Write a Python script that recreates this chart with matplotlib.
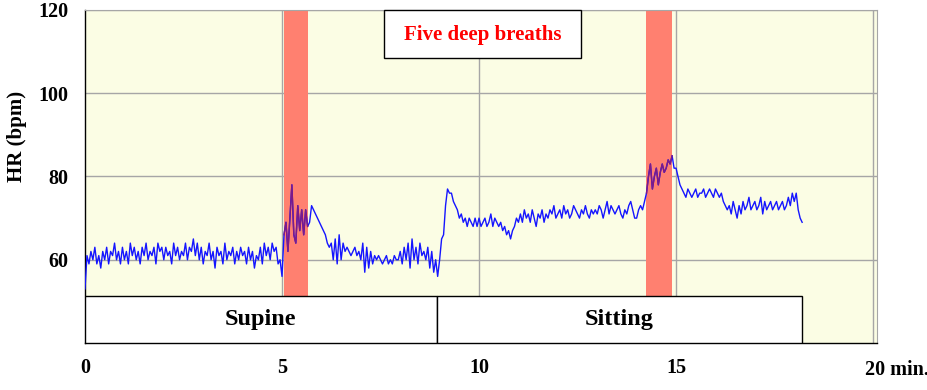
import numpy as np
import matplotlib
matplotlib.use("Agg")
import matplotlib.pyplot as plt
from matplotlib.patches import Rectangle
import matplotlib.transforms as mtransforms

# ---------------- data ----------------
sample_step = 0.05  # minutes between samples

hr_supine_rest = [
    53, 61, 59, 62, 60, 63, 59, 61, 58, 62, 60, 63, 59, 62, 61, 64, 60, 62, 59, 63,
    60, 62, 59, 64, 61, 63, 60, 62, 59, 63, 61, 64, 60, 62, 61, 63, 59, 64, 62, 63,
    60, 63, 61, 62, 59, 64, 61, 63, 60, 62, 61, 64, 60, 63, 62, 65, 61, 64, 60, 63,
    59, 62, 61, 64, 60, 62, 58, 63, 61, 62, 59, 64, 60, 62, 61, 63, 59, 62, 60, 63,
    61, 62, 59, 63, 60, 62, 58, 61, 60, 63, 59, 64, 61, 63, 60, 64, 62, 63, 59, 60,
]
hr_supine_breaths = [
    56, 66, 69, 62, 70, 78, 66, 64, 73, 67, 72, 66, 72, 68, 69, 73, 72, 71, 70, 69,
]
hr_supine_recovery = [
    68, 67, 66, 64, 63, 64, 60, 65, 59, 66, 60, 64, 62, 63, 62, 61, 62, 63, 61, 62,
    60, 64, 57, 63, 58, 62, 59, 61, 60, 61, 60, 59, 60, 61, 59, 60, 59, 61, 60, 60,
    62, 59, 63, 60, 64, 58, 65, 60, 63, 59, 64, 61, 62, 60, 63, 58, 62, 57, 60, 56,
]
hr_sitting_rest = [
    60, 65, 66, 73, 77, 76, 76, 74, 73, 72, 70, 71, 69, 70, 68, 70, 69, 68, 70, 68,
    70, 68, 69, 70, 68, 69, 71, 68, 70, 69, 68, 69, 67, 68, 66, 67, 65, 67, 68, 70,
    69, 71, 69, 72, 70, 71, 69, 72, 70, 68, 71, 70, 72, 69, 71, 70, 72, 71, 73, 70,
    71, 72, 70, 73, 71, 72, 70, 71, 73, 72, 71, 70, 72, 71, 73, 71, 70, 72, 71, 72,
    71, 73, 72, 70, 72, 74, 71, 73, 72, 71, 72, 73, 71, 70, 72, 71, 73, 74, 72, 70,
]
hr_sitting_breaths = [
    70, 72, 73, 72, 74, 76, 80, 83, 77, 80, 82, 78, 81, 83, 81, 82, 84, 83, 85, 82,
]
hr_sitting_recovery = [
    82, 80, 78, 77, 76, 75, 77, 76, 75, 76, 77, 75, 76, 76, 77, 75, 76, 77, 76, 75,
    77, 76, 75, 76, 74, 73, 72, 73, 71, 74, 72, 70, 73, 71, 74, 72, 73, 75, 72, 73,
    74, 72, 73, 75, 71, 74, 72, 73, 74, 72, 73, 74, 72, 73, 74, 72, 73, 75, 73, 76,
    74, 76, 72, 70, 69,
]

breath_bands = [(5.05, 5.66), (14.24, 14.90)]  # minutes
postures = ["Supine", "Sitting"]
posture_bounds = [(0.0, 8.93), (8.93, 18.2)]
x_ticks = [0, 5, 10, 15]
y_ticks = [60, 80, 100, 120]
annotation = "Five deep breaths"

hr = np.array(hr_supine_rest + hr_supine_breaths + hr_supine_recovery
              + hr_sitting_rest + hr_sitting_breaths + hr_sitting_recovery, dtype=float)
t = np.arange(len(hr)) * sample_step

# ---------------- figure ----------------
SERIF = ["Liberation Serif", "DejaVu Serif"]
plt.rcParams["font.family"] = SERIF
plt.rcParams["font.weight"] = "bold"

fig = plt.figure(figsize=(9.28, 3.90), dpi=100)
ax = fig.add_axes([85 / 928, 1 - 343 / 390, (877 - 85) / 928, (343 - 10) / 390])
ax.set_facecolor("#FBFDE4")
ax.set_xlim(0, 20.1)
ax.set_ylim(40, 120)

# grid
grid_c = "#A6A6A6"
for yv in y_ticks:
    ax.axhline(yv, color=grid_c, lw=1.0, zorder=1)
for xv in [5, 10, 15, 20]:
    ax.axvline(xv, color=grid_c, lw=1.0, zorder=1)

# breathing bands
for (a, b) in breath_bands:
    ax.axvspan(a, b, color="#FF8070", lw=0, zorder=2)

# trace
ax.plot(t, hr, color="#1515FF", lw=1.0, zorder=3)
for (a, b) in breath_bands:
    m = (t >= a - 1e-9) & (t <= b + 1e-9)
    ax.plot(t[m], hr[m], color="#7E1A86", lw=1.0, zorder=4)

# posture boxes
box_top = 51.3
for name, (a, b) in zip(postures, posture_bounds):
    ax.add_patch(Rectangle((a, 40), b - a, box_top - 40, facecolor="white",
                           edgecolor="black", lw=1.0, zorder=5))
    ax.text((a + b) / 2, (40 + box_top) / 2, name, ha="center", va="center",
            fontsize=17.5, fontweight="bold", zorder=6)

# annotation box
ax.add_patch(Rectangle((7.59, 108.4), 12.6 - 7.59, 120 - 108.4, facecolor="white",
                       edgecolor="black", lw=1.0, zorder=5, clip_on=False))
ax.text((7.59 + 12.6) / 2, 114.0, annotation, ha="center", va="center",
        color="#FF0000", fontsize=15, fontweight="bold", zorder=6)

# spines
for s in ["top", "right"]:
    ax.spines[s].set_color(grid_c)
for s in ["left", "bottom"]:
    ax.spines[s].set_color("black")
    ax.spines[s].set_linewidth(1.0)

ax.set_xticks(x_ticks)
ax.set_xticklabels([str(v) for v in x_ticks])
ax.set_yticks(y_ticks)
ax.set_yticklabels([str(v) for v in y_ticks])
ax.tick_params(axis="both", length=0, labelsize=14.5)
ax.tick_params(axis="x", pad=11)
ax.tick_params(axis="y", pad=12)
for lab in ax.get_xticklabels() + ax.get_yticklabels():
    lab.set_fontweight("bold")

# "20 min." label aligned with other x tick labels
off = mtransforms.offset_copy(ax.get_xaxis_transform(), fig=fig, x=-8, y=-27, units="dots")
ax.text(20, 0, "20 min.", transform=off, ha="left", va="center",
        fontsize=14.5, fontweight="bold")

# y label (placed higher than the axes centre, as in the original)
fig.text(17 / 928, 1 - 136 / 390, "HR (bpm)", rotation=90, ha="center", va="center",
         fontsize=15, fontweight="bold")

fig.savefig("out.png", dpi=100)
